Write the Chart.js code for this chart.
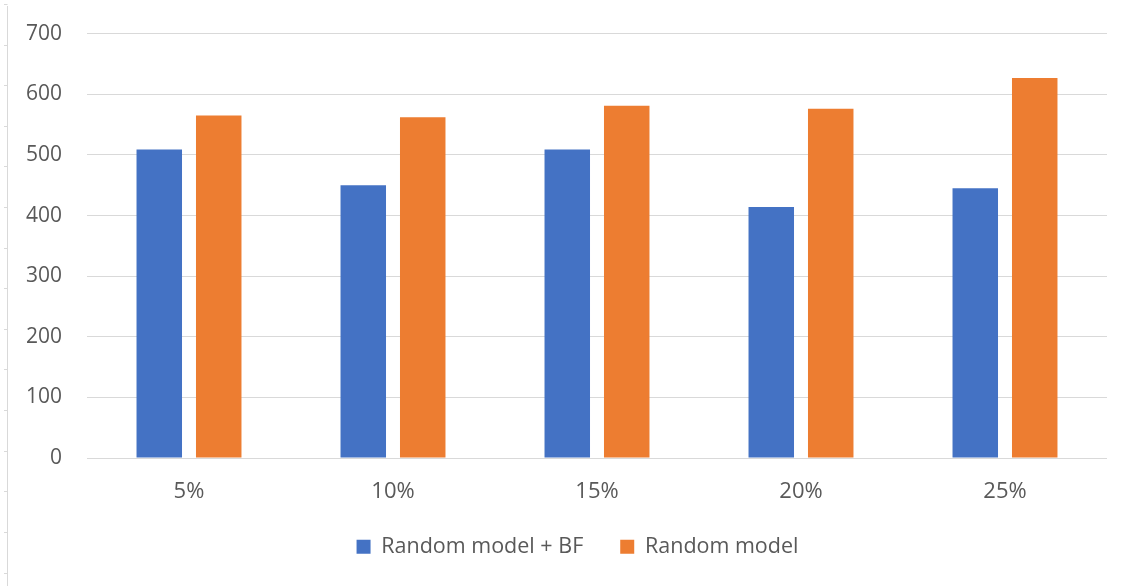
<!DOCTYPE html>
<html>
<head>
<meta charset="utf-8">
<script src="https://cdn.jsdelivr.net/npm/chart.js@4/dist/chart.umd.min.js"></script>
<style>
  html, body { margin: 0; padding: 0; background: #ffffff; }
  #wrap { width: 1136px; height: 586px; position: relative; }
</style>
</head>
<body>
<div id="wrap"><canvas id="chart" width="1136" height="586"></canvas></div>
<script>
// Sample rates on the x axis
const categories = ['5%', '10%', '15%', '20%', '25%'];
// Series values
const randomModelBF = [509, 450, 509, 414, 445];
const randomModel = [565, 562, 581, 576, 627];
// Value axis ticks
const yTicks = [0, 100, 200, 300, 400, 500, 600, 700];

const TEXT = '#595959';
const FONT = "'Open Sans', 'Noto Sans', sans-serif";

// Thin ruled frame line along the left edge of the sheet
const edgeRule = {
  id: 'edgeRule',
  beforeDraw(chart) {
    const ctx = chart.ctx;
    ctx.save();
    ctx.strokeStyle = '#d9d9d9';
    ctx.lineWidth = 1;
    ctx.beginPath();
    ctx.moveTo(7.5, 6);
    ctx.lineTo(7.5, chart.height);
    for (let y = 572.5; y > 0; y -= 40.6) {
      ctx.moveTo(4, Math.round(y) + 0.5);
      ctx.lineTo(7.5, Math.round(y) + 0.5);
    }
    ctx.stroke();
    ctx.restore();
  }
};

// Nudge the centred legend row a little to the right, under the plot
const legendShift = {
  id: 'legendShift',
  afterLayout(chart) {
    chart.legend.left += 24;
    chart.legend.right += 24;
  }
};

new Chart(document.getElementById('chart'), {
  type: 'bar',
  data: {
    labels: categories,
    datasets: [
      {
        label: 'Random model + BF',
        data: randomModelBF,
        backgroundColor: '#4472C4',
        borderWidth: 0
      },
      {
        label: 'Random model',
        data: randomModel,
        backgroundColor: '#ED7D31',
        borderWidth: 0
      }
    ]
  },
  options: {
    responsive: false,
    animation: false,
    devicePixelRatio: 1,
    datasets: {
      bar: { categoryPercentage: 0.583, barPercentage: 0.765 }
    },
    layout: { padding: { left: 0, right: 29, top: 33.7, bottom: 18.5 } },
    plugins: {
      legend: {
        position: 'bottom',
        labels: {
          color: TEXT,
          font: { family: FONT, size: 21.5 },
          boxWidth: 14,
          boxHeight: 14,
          padding: 37
        }
      },
      tooltip: { enabled: false }
    },
    scales: {
      x: {
        grid: { display: false, drawTicks: false },
        border: { display: false },
        ticks: { color: TEXT, font: { family: FONT, size: 22 }, padding: 21 },
        afterFit(scale) { scale.height = 41; }
      },
      y: {
        min: 0,
        max: 700,
        grid: {
          color: '#d9d9d9',
          lineWidth: 1,
          drawTicks: true,
          tickLength: 25,
          tickColor: 'rgba(0,0,0,0)'
        },
        border: { display: false },
        afterBuildTicks(scale) { scale.ticks = yTicks.map(v => ({ value: v })); },
        ticks: { color: TEXT, font: { family: FONT, size: 21 }, padding: 0 },
        afterFit(scale) { scale.width = 87; }
      }
    }
  },
  plugins: [edgeRule, legendShift]
});
</script>
</body>
</html>
